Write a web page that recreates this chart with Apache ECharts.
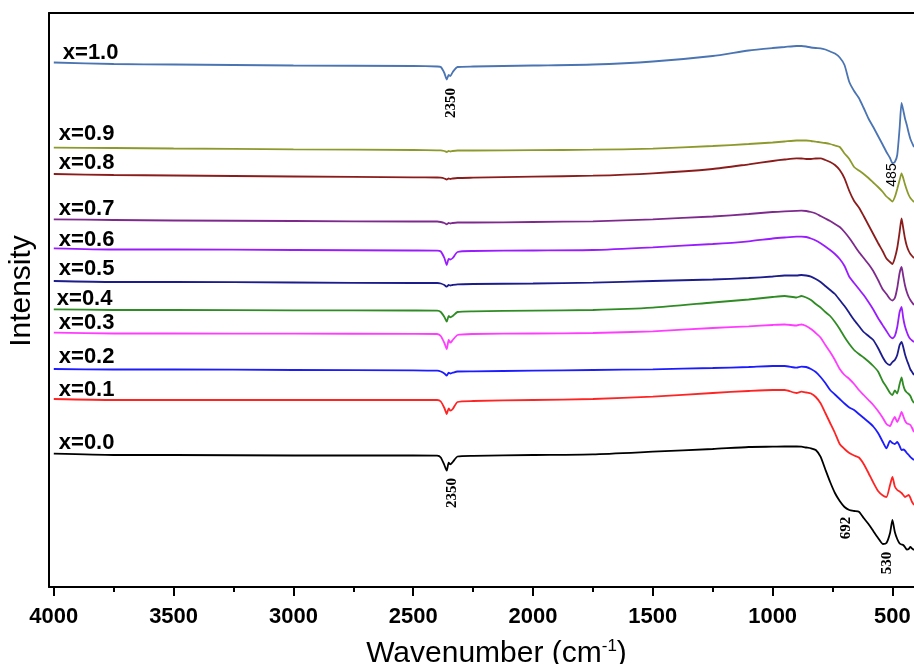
<!DOCTYPE html>
<html lang="en">
<head>
<meta charset="UTF-8">
<title>FTIR spectra</title>
<script src="https://cdn.jsdelivr.net/npm/echarts@6.0.0/dist/echarts.min.js"></script>
<style>
  html, body { margin: 0; padding: 0; background: #fff; }
  #chart { width: 914px; height: 664px; }
</style>
</head>
<body>
<div id="chart"></div>
<script>
// wavenumber grid (cm-1) shared by every spectrum
var wavenumbers = [4000, 3750, 3500, 3000, 2500,
  2400, 2385, 2370, 2360, 2352,
  2345, 2335, 2315, 2250, 2000,
  1750, 1500, 1250, 1100, 1000,
  950, 900, 880, 860, 840,
  820, 800, 780, 760, 740,
  720, 700, 680, 660, 640,
  620, 600, 580, 560, 540,
  525, 510, 500, 490, 480,
  470, 462, 455, 448, 440,
  432, 425, 418, 410];

var names = ['x=1.0', 'x=0.9', 'x=0.8', 'x=0.7', 'x=0.6', 'x=0.5', 'x=0.4', 'x=0.3', 'x=0.2', 'x=0.1', 'x=0.0'];

// intensities (arbitrary units, stacked offsets as in the figure)
var x10 = [524.5, 523, 522.5, 521.5, 521,
  520.5, 520, 514, 507.5, 512,
  511, 515, 520, 520.5, 521.5,
  522.5, 525.5, 531, 536.5, 539,
  540, 541, 541, 540.5, 539.5,
  539, 538.7, 537.5, 535.5, 533.5,
  529.5, 522, 505, 496, 489,
  479, 468.5, 460, 451, 442,
  435, 429, 424, 425, 432,
  459, 484, 477, 469, 462,
  454, 448, 444, 440];
var x09 = [439.3, 439, 438.5, 437.7, 437,
  436.7, 436.7, 436, 435, 436,
  435.5, 436, 436.5, 436.5, 436.8,
  437.3, 438.3, 441, 443, 444.5,
  445.5, 446.5, 446.5, 446.5, 446,
  445.3, 444.7, 444, 443, 441.5,
  440, 433.5, 428, 420, 416.5,
  413, 409, 404.5, 400, 395,
  390.5, 387.5, 385.5, 390, 398,
  407, 413.7, 409, 403, 397,
  392, 389, 387, 385];
var x08 = [413, 412, 411.5, 410.5, 409.7,
  409.5, 409.3, 408.5, 407.5, 408.5,
  408, 408.5, 409, 409.3, 410.3,
  411.3, 413.7, 418, 422.7, 426,
  427.5, 428.7, 428.5, 428, 428,
  428.5, 428.7, 427, 425, 422,
  417, 408.7, 396, 386, 379.5,
  371, 362, 353, 344, 335.5,
  328.5, 325, 323, 329, 339,
  355, 368.5, 359, 349, 341,
  336, 333, 331, 329];
var x07 = [367.7, 367, 366.5, 366, 365.5,
  365.5, 365, 364, 362.7, 364,
  363.5, 364, 364.5, 364.5, 365,
  365.7, 367.7, 370.5, 373, 375,
  375.7, 376.2, 376.3, 376, 375,
  373.5, 371, 368.5, 366, 363,
  360, 355, 349, 342, 335,
  329, 323, 316, 307, 297.5,
  293, 288, 286.5, 289, 299,
  314, 320, 311, 302, 295,
  290, 287, 284.5, 282];
var x06 = [338.7, 337.5, 337.5, 337, 336.5,
  336.3, 335.5, 329, 322, 328,
  327.5, 329, 335, 336, 336.5,
  337, 339.7, 343, 345.7, 348.5,
  349.5, 350.3, 350.3, 350, 348.5,
  346.5, 343.7, 340.5, 337, 333,
  328, 321, 310.3, 304, 298,
  292, 285, 277.5, 269, 261.5,
  256, 250.5, 248.7, 251, 260,
  275, 280, 269, 261, 255,
  250.3, 248, 246.5, 245];
var x05 = [306, 305, 305, 304.5, 304,
  304, 303.5, 302, 300.3, 302,
  301.5, 302, 302.7, 303, 303.5,
  304.3, 306, 307.5, 309, 310.5,
  311.5, 311.5, 312, 311.5, 310.3,
  308, 305, 301, 297, 293,
  287, 281, 274, 267, 261,
  255, 251, 247, 239, 229.5,
  224, 222, 225, 227, 232,
  242, 245, 240, 233, 227,
  222, 217.5, 215, 212];
var x04 = [277.7, 277, 277, 276.7, 276.5,
  276.3, 275, 270, 265.3, 271,
  269.7, 271, 275, 275.7, 276.3,
  277, 279.3, 284.5, 287.5, 290,
  291, 289.5, 291, 289.5, 287,
  283, 279.5, 275, 271, 265,
  258, 250, 243, 237, 233,
  229.5, 225.5, 221, 215.5, 205.5,
  200, 194, 192, 196.5, 193.5,
  203, 209.7, 202, 197, 194.5,
  193, 191, 187, 184];
var x03 = [254.3, 253.5, 253.5, 253.3, 253.2,
  253, 251, 244, 238, 247,
  244.3, 247, 252, 253, 253.5,
  254, 255.7, 259, 260.7, 262,
  262.5, 261.5, 262.5, 261, 258,
  254, 249.5, 242, 235, 227,
  218, 212, 208, 203, 197,
  192, 187, 182, 176, 169,
  163, 161, 166, 170, 165,
  170, 175, 171, 166.5, 163.7,
  163, 162, 159, 155];
var x02 = [218, 217.5, 217.5, 217, 216.7,
  216.3, 215.5, 213.5, 211.3, 214.3,
  213.5, 214.3, 215.5, 215.7, 216.3,
  217, 217.7, 219, 220, 221,
  221, 219.3, 220.3, 220, 218,
  215, 210, 204, 197, 192.5,
  188, 183.5, 179.5, 177, 173,
  169, 165, 160.5, 154, 145,
  138.7, 146, 144, 143, 145,
  141, 137, 137.5, 136.5, 134,
  132, 130, 128.5, 127];
var x01 = [188, 187, 187, 187, 187,
  187, 185.5, 179, 173, 178.7,
  176.3, 178, 185, 186, 187,
  188, 190.3, 194, 196, 197,
  197, 194, 195.3, 194.5, 193.5,
  190, 183.7, 174, 164, 154,
  143, 138, 134, 131.5, 129.5,
  123, 114, 104.5, 96, 91.5,
  90, 102, 110, 100.5, 97,
  95.5, 94, 92, 90, 91,
  92, 89, 85, 82];
var x00 = [133.3, 132, 132, 131.5, 131.5,
  131.3, 129.5, 122, 116.3, 124.3,
  122.7, 125, 130.5, 131.2, 132,
  132.7, 135.3, 138, 140, 140.3,
  140.5, 140.5, 140.3, 139.5, 138.7,
  137, 130.3, 117.5, 105, 94,
  86, 80, 77, 76, 75.3,
  69, 63, 56, 49, 43,
  44, 54, 67, 55, 48,
  43.5, 42.5, 42, 40, 37.5,
  38, 40, 38.5, 37];

var spectra = [x10, x09, x08, x07, x06, x05, x04, x03, x02, x01, x00];

var majorTicks = [4000, 3500, 3000, 2500, 2000, 1500, 1000, 500];
var minorTicks = [3750, 3250, 2750, 2250, 1750, 1250, 750];

var colors = ['#4a74b2', '#8c9a2c', '#8b1c1c', '#7d2a8c', '#991cff', '#1c1c8c',
  '#2f8b24', '#ff3cff', '#1c1cff', '#ff2424', '#000000'];
// little nudges so each "x=..." tag sits where it does in the figure
var labelNudge = [[4, -10], [0, -14], [0, -11], [0, -10], [0, -8], [0, -12],
  [-2, -10], [0, -10], [0, -12], [0, -9], [0, -11]];

var sans = "'Liberation Sans', Arial, sans-serif";
var serif = "'Liberation Serif', 'Times New Roman', serif";

var series = spectra.map(function (vals, i) {
  return {
    name: names[i],
    type: 'line',
    xAxisIndex: 0,
    yAxisIndex: 0,
    showSymbol: false,
    symbol: 'none',
    smooth: 0.2,
    lineStyle: { color: colors[i], width: 1.8 },
    data: wavenumbers.map(function (w, j) { return [w, vals[j]]; }),
    markPoint: {
      silent: true,
      symbol: 'circle',
      symbolSize: 0,
      label: {
        show: true, position: 'right', formatter: '{b}', offset: labelNudge[i],
        color: '#000', fontFamily: sans, fontWeight: 'bold', fontSize: 22
      },
      data: [{ name: names[i], coord: [wavenumbers[0], vals[0]] }]
    }
  };
});

function peakNote(text, coord, font, bold) {
  return {
    name: text, coord: coord,
    label: {
      position: 'inside', offset: [0, 0], rotate: 90,
      fontFamily: font, fontWeight: bold ? 'bold' : 'normal', fontSize: bold ? 15 : 14
    }
  };
}
series[0].markPoint.data.push(peakNote('2350', [2343, 484], serif, true));
series[0].markPoint.data.push(peakNote('485', [502, 412], sans, false));
series[10].markPoint.data.push(peakNote('2350', [2339, 94], serif, true));
series[10].markPoint.data.push(peakNote('692', [692, 59], serif, true));
series[10].markPoint.data.push(peakNote('530', [523, 24], serif, true));

var chart = echarts.init(document.getElementById('chart'));
chart.setOption({
  animation: false,
  backgroundColor: '#fff',
  grid: { left: 49, right: 0, top: 13, bottom: 77, containLabel: false, outerBoundsMode: 'none' },
  xAxis: [{
    type: 'value', inverse: true, min: 410, max: 4020, position: 'bottom',
    axisLine: { onZero: false, lineStyle: { color: '#000', width: 2 } },
    axisTick: { customValues: majorTicks, length: 9, lineStyle: { color: '#000', width: 2 } },
    axisLabel: {
      customValues: majorTicks, margin: 19, color: '#000', fontFamily: sans, fontWeight: 'bold', fontSize: 22,
      formatter: function (v) { return String(v); }
    },
    splitLine: { show: false },
    name: '{t|Wavenumber (cm}{s|-1}{t|)}',
    nameLocation: 'middle',
    nameGap: 51,
    nameTextStyle: {
      padding: [0, 0, 0, 30],
      rich: {
        t: { fontFamily: sans, fontSize: 30, color: '#000' },
        s: { fontFamily: sans, fontSize: 17, color: '#000', padding: [0, 0, 14, 0] }
      }
    }
  }, {
    type: 'value', inverse: true, min: 410, max: 4020, position: 'bottom',
    axisLine: { show: false },
    axisTick: { customValues: minorTicks, length: 5, lineStyle: { color: '#000', width: 2 } },
    axisLabel: { show: false },
    splitLine: { show: false }
  }, {
    type: 'value', inverse: true, min: 410, max: 4020, position: 'top',
    axisLine: { show: true, onZero: false, lineStyle: { color: '#000', width: 2 } },
    axisTick: { show: false },
    axisLabel: { show: false },
    splitLine: { show: false }
  }],
  yAxis: {
    type: 'value', min: 0, max: 574,
    axisLine: { show: true, onZero: false, lineStyle: { color: '#000', width: 2 } },
    axisTick: { show: false },
    axisLabel: { show: false },
    splitLine: { show: false },
    name: 'Intensity',
    nameLocation: 'middle',
    nameGap: 12,
    nameTextStyle: { fontFamily: sans, fontSize: 30, color: '#000', padding: [0, 0, 0, 18] }
  },
  series: series
});
</script>
</body>
</html>
